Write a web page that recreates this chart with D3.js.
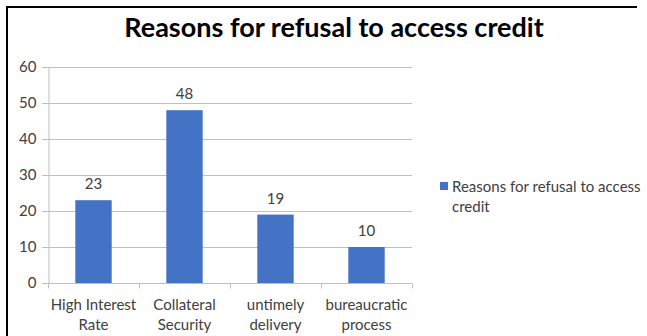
<!DOCTYPE html>
<html>
<head>
<meta charset="utf-8">
<script src="https://cdn.jsdelivr.net/npm/d3@7"></script>
<style>
  body { margin: 0; background: #fff; }
  svg { display: block; }
</style>
</head>
<body>
<svg id="chart" width="647" height="336"></svg>
<script>
// chart data
var categories = [["High Interest", "Rate"], ["Collateral", "Security"], ["untimely", "delivery"], ["bureaucratic", "process"]];
var values = [23, 48, 19, 10];
var yTicks = [0, 10, 20, 30, 40, 50, 60];
var seriesName = ["Reasons for refusal to access", "credit"];
var title = "Reasons for refusal to access credit";

var svg = d3.select("#chart");
var font = "Lato, 'Open Sans', sans-serif";

// frame (only top and left edges show in the crop)
svg.append("path")
    .attr("d", "M7,336 L7,7 L637,7")
    .attr("fill", "none")
    .attr("stroke", "#000")
    .attr("stroke-width", 2);

var x = d3.scaleBand()
    .domain(d3.range(values.length))
    .range([48, 412])
    .paddingInner(0.6)
    .paddingOuter(0.3);

var y = d3.scaleLinear()
    .domain([0, 60])
    .range([283, 67]);

// gridlines
svg.append("g")
    .selectAll("line")
    .data(yTicks)
    .enter().append("line")
    .attr("x1", 42)
    .attr("x2", 412)
    .attr("y1", function(d){ return y(d) + 0.5; })
    .attr("y2", function(d){ return y(d) + 0.5; })
    .attr("stroke", "#bfbfbf")
    .attr("stroke-width", 1);

// y axis
var yAxis = svg.append("g")
    .attr("transform", "translate(48.5,0)")
    .call(d3.axisLeft(y).tickValues(yTicks).tickSize(0).tickPadding(12));
yAxis.select(".domain").attr("stroke", "#bfbfbf");
yAxis.selectAll("text")
    .attr("font-family", font)
    .attr("font-size", 15)
    .attr("fill", "#404040");

// x axis line + ticks between categories
var xAxis = svg.append("g")
    .attr("transform", "translate(0," + (y(0) + 0.5) + ")");
xAxis.append("line")
    .attr("x1", 48).attr("x2", 412)
    .attr("stroke", "#bfbfbf");
xAxis.selectAll(".sep")
    .data(d3.range(values.length + 1))
    .enter().append("line")
    .attr("class", "sep")
    .attr("x1", function(i){ return Math.round(48 + i * (412 - 48) / values.length) + 0.5; })
    .attr("x2", function(i){ return Math.round(48 + i * (412 - 48) / values.length) + 0.5; })
    .attr("y1", 0).attr("y2", 5)
    .attr("stroke", "#bfbfbf");

// bars
svg.append("g")
    .selectAll("rect")
    .data(values)
    .enter().append("rect")
    .attr("x", function(d, i){ return x(i); })
    .attr("y", function(d){ return y(d); })
    .attr("width", x.bandwidth())
    .attr("height", function(d){ return y(0) - y(d); })
    .attr("fill", "#4472c4");

// data labels
svg.append("g")
    .selectAll("text")
    .data(values)
    .enter().append("text")
    .attr("x", function(d, i){ return x(i) + x.bandwidth() / 2; })
    .attr("y", function(d){ return y(d) - 11; })
    .attr("text-anchor", "middle")
    .attr("font-family", font)
    .attr("font-size", 15)
    .attr("fill", "#404040")
    .text(function(d){ return d; });

// category labels
var cat = svg.append("g")
    .selectAll("text")
    .data(categories)
    .enter().append("text")
    .attr("text-anchor", "middle")
    .attr("font-family", font)
    .attr("font-size", 15)
    .attr("fill", "#404040");
cat.each(function(lines, i){
    var t = d3.select(this);
    lines.forEach(function(l, j){
        t.append("tspan")
            .attr("x", x(i) + x.bandwidth() / 2)
            .attr("y", 310 + j * 20)
            .text(l);
    });
});

// title
svg.append("text")
    .attr("x", 334)
    .attr("y", 37)
    .attr("text-anchor", "middle")
    .attr("font-family", font)
    .attr("font-weight", "bold")
    .attr("font-size", 27)
    .attr("fill", "#000")
    .text(title);

// legend
var legend = svg.append("g");
legend.append("rect")
    .attr("x", 440).attr("y", 182)
    .attr("width", 8).attr("height", 8)
    .attr("fill", "#4472c4");
var lt = legend.append("text")
    .attr("font-family", font)
    .attr("font-size", 15)
    .attr("fill", "#404040");
seriesName.forEach(function(l, j){
    lt.append("tspan")
        .attr("x", 452)
        .attr("y", 192 + j * 20)
        .text(l);
});
</script>
</body>
</html>
